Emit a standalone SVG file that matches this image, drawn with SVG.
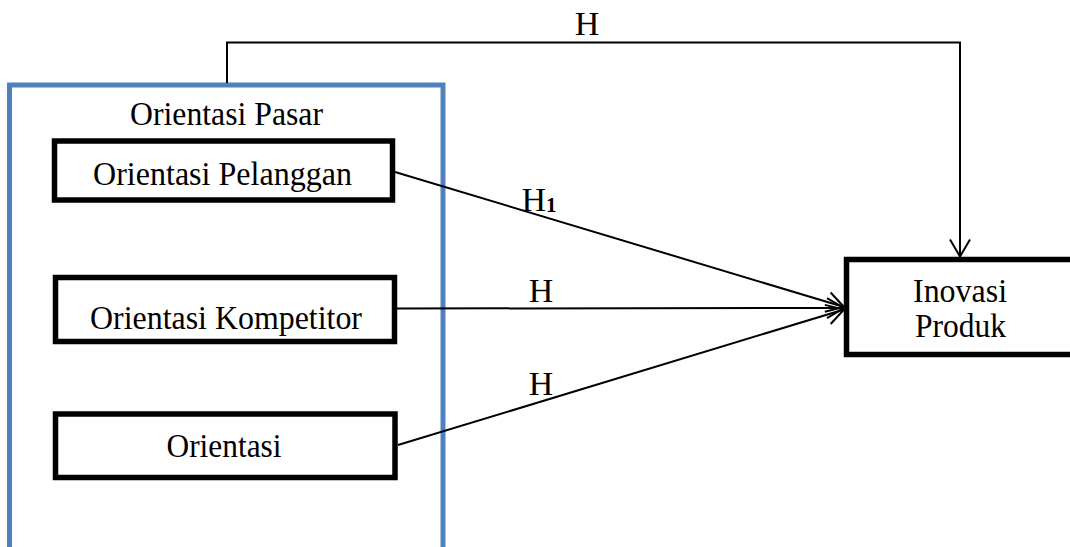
<svg xmlns="http://www.w3.org/2000/svg" width="1070" height="547" viewBox="0 0 1070 547">
  <style>
    .box { fill: #ffffff; stroke: #000000; stroke-width: 5.5; }
    .group { fill: none; stroke: #4f81bd; stroke-width: 5; }
    .lbl { font-family: "Liberation Serif", "Times New Roman", serif; font-size: 34px; fill: #000000; text-anchor: middle; }
    .wire { fill: none; stroke: #000000; stroke-width: 2; }
  </style>
  <defs>
    <marker id="vee" viewBox="-20 -12 22 24" refX="0" refY="0" markerWidth="22" markerHeight="24" markerUnits="userSpaceOnUse" orient="auto">
      <path d="M-17,-10 L0,0 L-17,10" fill="none" stroke="#000000" stroke-width="2"/>
    </marker>
  </defs>

  <rect width="1070" height="547" fill="#ffffff"/>

  <!-- market orientation container -->
  <g id="orientasi-pasar">
    <rect class="group" x="9.5" y="85" width="433.5" height="480"/>
    <text class="lbl" x="226.5" y="125" textLength="193" lengthAdjust="spacingAndGlyphs">Orientasi Pasar</text>
  </g>

  <g id="orientasi-pelanggan">
    <rect class="box" x="54.5" y="141" width="338" height="59"/>
    <text class="lbl" x="222.5" y="184.5" textLength="259" lengthAdjust="spacingAndGlyphs">Orientasi Pelanggan</text>
  </g>

  <g id="orientasi-kompetitor">
    <rect class="box" x="55.5" y="277.5" width="339" height="64"/>
    <text class="lbl" x="226" y="329" textLength="272" lengthAdjust="spacingAndGlyphs">Orientasi Kompetitor</text>
  </g>

  <g id="orientasi">
    <rect class="box" x="55.5" y="414" width="339.5" height="63.5"/>
    <text class="lbl" x="224" y="456.5" textLength="115" lengthAdjust="spacingAndGlyphs">Orientasi</text>
  </g>

  <g id="inovasi-produk">
    <rect class="box" x="846.5" y="259.5" width="240" height="95"/>
    <text class="lbl" x="960" y="301.5" textLength="94" lengthAdjust="spacingAndGlyphs">Inovasi</text>
    <text class="lbl" x="960.5" y="337" textLength="91" lengthAdjust="spacingAndGlyphs">Produk</text>
  </g>

  <!-- hypothesis paths -->
  <g id="connectors">
    <path class="wire" d="M227,83 V42.5 H960 V256.5" marker-end="url(#vee)"/>
    <path class="wire" d="M395,172 L844,307" marker-end="url(#vee)"/>
    <path class="wire" d="M397,308.5 L844,308" marker-end="url(#vee)"/>
    <path class="wire" d="M398,445 L844,309.5" marker-end="url(#vee)"/>
    <text class="lbl" x="587" y="35">H</text>
    <text class="lbl" x="539" y="210.5">H<tspan font-size="21" font-weight="bold" dy="1">1</tspan></text>
    <text class="lbl" x="541" y="302">H</text>
    <text class="lbl" x="541" y="395">H</text>
  </g>
</svg>
